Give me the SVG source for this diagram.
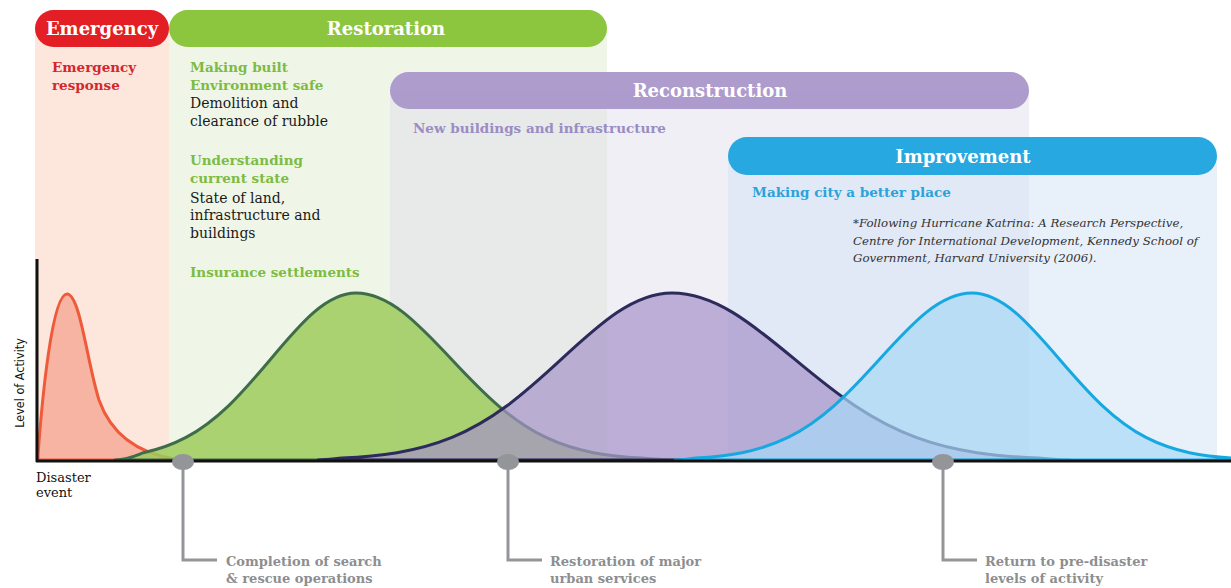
<svg xmlns="http://www.w3.org/2000/svg" width="1231" height="588" viewBox="0 0 1231 588">
<style>
.pill{font-family:"DejaVu Serif","Liberation Serif",serif;font-weight:bold;font-size:18px;fill:#fff;text-anchor:middle}
.hd{font-family:"DejaVu Serif","Liberation Serif",serif;font-weight:bold;font-size:13.5px}
.bd{font-family:"DejaVu Serif","Liberation Serif",serif;font-size:14px;fill:#1a1a1a}
.cite{font-family:"DejaVu Serif","Liberation Serif",serif;font-style:italic;font-size:11.8px;fill:#333}
.lbl{font-family:"DejaVu Serif","Liberation Serif",serif;font-weight:bold;font-size:13px;fill:#8d8e90}
.ax{font-family:"DejaVu Serif","Liberation Serif",serif;font-size:13px;fill:#111}
.call{fill:none;stroke:#939598;stroke-width:3}
.dot{fill:#939598}
.crv{stroke-width:3;stroke-linejoin:round}
</style>
<rect width="1231" height="588" fill="#fff"/>

<g id="emergency">
  <rect x="35" y="28" width="134" height="432" fill="#fde6dc"/>
  <rect x="35" y="10" width="134" height="37" rx="18.5" fill="#e31e25"/>
  <text class="pill" x="102" y="35">Emergency</text>
  <text class="hd" x="52" y="72" fill="#d3272d">Emergency</text>
  <text class="hd" x="52" y="90" fill="#d3272d">response</text>
</g>

<g id="restoration">
  <rect x="169" y="28" width="438" height="432" fill="#f0f6e7"/>
  <rect x="169" y="10" width="438" height="37" rx="18.5" fill="#8cc63f"/>
  <text class="pill" x="386" y="35">Restoration</text>
  <text class="hd" x="190" y="72" fill="#7dbb42">Making built</text>
  <text class="hd" x="190" y="90" fill="#7dbb42">Environment safe</text>
  <text class="bd" x="190" y="108">Demolition and</text>
  <text class="bd" x="190" y="126">clearance of rubble</text>
  <text class="hd" x="190" y="165" fill="#7dbb42">Understanding</text>
  <text class="hd" x="190" y="183" fill="#7dbb42">current state</text>
  <text class="bd" x="190" y="203">State of land,</text>
  <text class="bd" x="190" y="220">infrastructure and</text>
  <text class="bd" x="190" y="238">buildings</text>
  <text class="hd" x="190" y="277" fill="#7dbb42">Insurance settlements</text>
</g>

<g id="reconstruction">
  <rect x="390" y="90" width="639" height="370" fill="#dcd8ea" fill-opacity="0.42"/>
  <rect x="390" y="72" width="639" height="37" rx="18.5" fill="#a895c9" fill-opacity="0.93"/>
  <text class="pill" x="710" y="97">Reconstruction</text>
  <text class="hd" x="413" y="133" fill="#9a8cc4">New buildings and infrastructure</text>
</g>

<g id="improvement">
  <rect x="728" y="156" width="489" height="304" fill="#d1e1f5" fill-opacity="0.5"/>
  <rect x="728" y="137" width="489" height="38" rx="19" fill="#27a8e0"/>
  <text class="pill" x="963" y="163">Improvement</text>
  <text class="hd" x="752" y="197" fill="#2aa3db">Making city a better place</text>
  <text class="cite" x="853" y="227">*Following Hurricane Katrina: A Research Perspective,</text>
  <text class="cite" x="853" y="245">Centre for International Development, Kennedy School of</text>
  <text class="cite" x="853" y="262">Government, Harvard University (2006).</text>
</g>

<g id="curves">
  <path id="curve-emergency" class="crv" fill="#f7b4a3" stroke="#ee5a3a" d="M38,460 L38,455 C42,400 52,294 67,294 C80,294 87,362 99,400 C111,434 137,453 175,459 L180,460 Z"/>
  <path id="curve-restoration" class="crv" fill="#9ecb5c" fill-opacity="0.85" stroke="#3f6c4a" d="M115,460 C128,459.5 136,455.5 143.5,452.7 C157.7,449.6 171.8,444.9 186,437.4 C200.2,429.9 214.3,419.3 228.5,405.8 C242.7,392.2 256.8,375.6 271,358.7 C285.2,341.8 299.3,324.9 313.5,312.6 C327.7,300.3 341.8,293 356,293 C371.8,293 387.7,300.3 403.5,312.6 C419.3,324.9 435.2,341.8 451,358.7 C466.8,375.6 482.7,392.2 498.5,405.8 C514.3,419.3 530.2,429.9 546,437.4 C561.8,444.9 577.7,449.6 593.5,452.7 C609.3,455.7 625.2,457.2 641,458.1 C655,459 665,460 680,460 Z"/>
  <path id="curve-reconstruction" class="crv" fill="#a593c9" fill-opacity="0.7" stroke="#2d2b5c" d="M318,460 C328,460 335,458.6 342,458.1 C360.3,457.2 378.7,455.7 397,452.7 C415.3,449.6 433.7,444.9 452,437.4 C470.3,429.9 488.7,419.3 507,405.8 C525.3,392.2 543.7,375.6 562,358.7 C580.3,341.8 598.7,324.9 617,312.6 C635.3,300.3 653.7,293 672,293 C692.3,293 712.7,300.3 733,312.6 C753.3,324.9 773.7,341.8 794,358.7 C814.3,375.6 834.7,392.2 855,405.8 C875.3,419.3 895.7,429.9 916,437.4 C936.3,444.9 956.7,449.6 977,452.7 C997.3,455.7 1017.7,457.2 1038,458.1 C1050,459 1058,460 1070,460 Z"/>
  <path id="curve-improvement" class="crv" fill="#a8d8f5" fill-opacity="0.7" stroke="#16a8e1" d="M675,460 C685,460 690,458.6 696,458.1 C711.3,457.2 726.7,455.7 742,452.7 C757.3,449.6 772.7,444.9 788,437.4 C803.3,429.9 818.7,419.3 834,405.8 C849.3,392.2 864.7,375.6 880,358.7 C895.3,341.8 910.7,324.9 926,312.6 C941.3,300.3 956.7,293 972,293 C986.5,293 1001,300.3 1015.5,312.6 C1030,324.9 1044.5,341.8 1059,358.7 C1073.5,375.6 1088,392.2 1102.5,405.8 C1117,419.3 1131.5,429.9 1146,437.4 C1160.5,444.9 1175,449.6 1189.5,452.7 C1204,455.7 1218.5,457.2 1233,458.1 L1233,460 Z"/>
</g>

<g id="axes">
  <line x1="37" y1="259" x2="37" y2="462" stroke="#111" stroke-width="3"/>
  <line x1="36" y1="461" x2="1231" y2="461" stroke="#111" stroke-width="3"/>
  <text class="ax" transform="translate(24,383) rotate(-90)" text-anchor="middle" style="font-family:'DejaVu Sans Condensed','Liberation Sans',sans-serif;font-size:12.5px">Level of Activity</text>
  <text class="ax" x="36" y="482">Disaster</text>
  <text class="ax" x="36" y="497">event</text>
</g>

<g id="connectors">
  <path class="call" d="M183,461 V560 H217"/>
  <ellipse class="dot" cx="183" cy="462" rx="11" ry="8"/>
  <path class="call" d="M508,461 V560 H542"/>
  <ellipse class="dot" cx="508" cy="462" rx="11" ry="8"/>
  <path class="call" d="M943,461 V560 H977"/>
  <ellipse class="dot" cx="943" cy="462" rx="11" ry="8"/>
</g>

<g id="milestone-search">
  <text class="lbl" x="226" y="566">Completion of search</text>
  <text class="lbl" x="226" y="583">&amp; rescue operations</text>
</g>
<g id="milestone-services">
  <text class="lbl" x="550" y="566">Restoration of major</text>
  <text class="lbl" x="550" y="583">urban services</text>
</g>
<g id="milestone-return">
  <text class="lbl" x="985" y="566">Return to pre-disaster</text>
  <text class="lbl" x="985" y="583">levels of activity</text>
</g>
</svg>
